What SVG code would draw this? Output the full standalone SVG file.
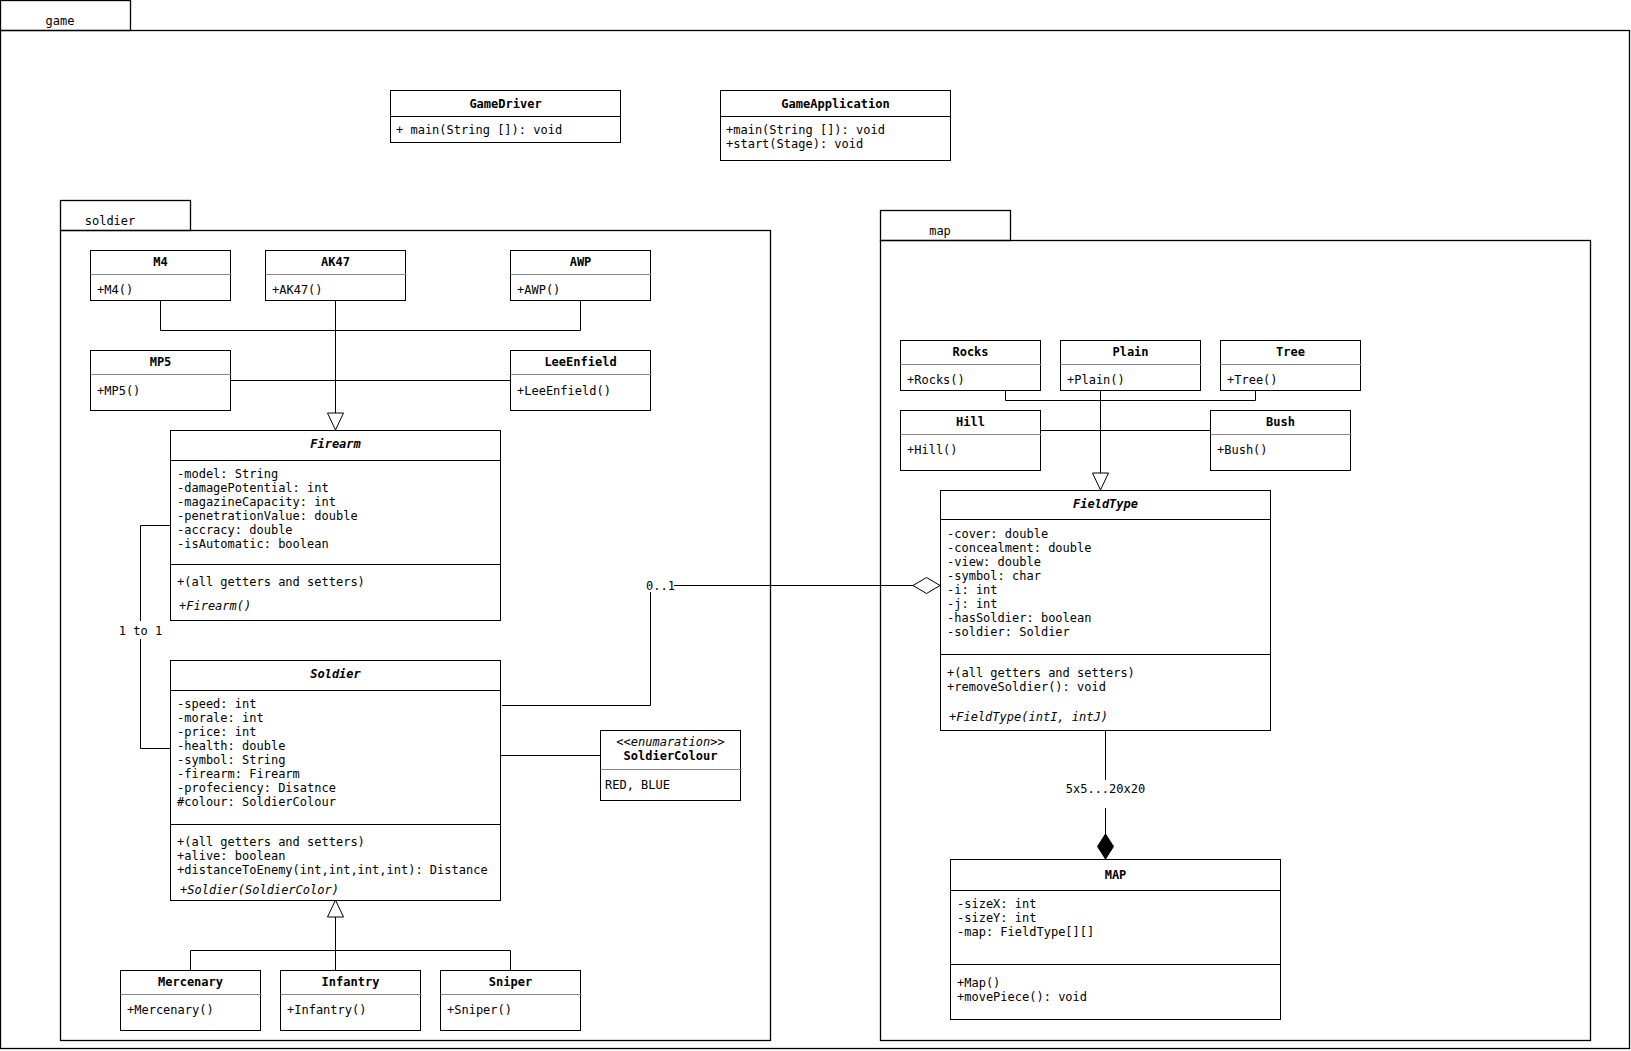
<svg xmlns="http://www.w3.org/2000/svg" width="1631" height="1051" viewBox="0 0 1631 1051">
<style>
.frame{fill:none;stroke:#000;stroke-width:1.3}
.box{fill:#fff;stroke:#000;stroke-width:1}
.dv{stroke:#000;stroke-width:1}
.gdv{stroke:#8a8a8a;stroke-width:1}
text{font-family:"DejaVu Sans Mono","Liberation Mono",monospace;font-size:12px;fill:#000}
.t{font-weight:bold;text-anchor:middle}
.ti{font-weight:bold;font-style:italic;text-anchor:middle}
.i{font-style:italic}
.c{text-anchor:middle}
.edge{fill:none;stroke:#000;stroke-width:1}
</style>
<defs>
<marker id="tri" viewBox="0 0 17 16" refX="17" refY="8" markerWidth="17" markerHeight="16" markerUnits="userSpaceOnUse" orient="auto" overflow="visible"><path d="M0,0 L17,8 L0,16 Z" fill="#fff" stroke="#000" stroke-width="1"/></marker>
<marker id="agg" viewBox="0 0 27 16" refX="27" refY="8" markerWidth="27" markerHeight="16" markerUnits="userSpaceOnUse" orient="auto" overflow="visible"><path d="M0,8 L13.5,0 L27,8 L13.5,16 Z" fill="#fff" stroke="#000" stroke-width="1"/></marker>
<marker id="comp" viewBox="0 0 25 16" refX="25" refY="8" markerWidth="25" markerHeight="16" markerUnits="userSpaceOnUse" orient="auto" overflow="visible"><path d="M0,8 L12.5,0 L25,8 L12.5,16 Z" fill="#000" stroke="#000" stroke-width="1"/></marker>
</defs>
<rect width="1631" height="1051" fill="#fff"/>

<g id="pkg-game">
<rect class="frame" x="0.5" y="0.5" width="130" height="30"/>
<rect class="frame" x="0.5" y="30.5" width="1629" height="1018"/>
<text x="60" y="25" class="c">game</text>
</g>

<g id="pkg-soldier">
<rect class="frame" x="60.5" y="200.5" width="130" height="30"/>
<rect class="frame" x="60.5" y="230.5" width="710" height="810"/>
<text x="110" y="225" class="c">soldier</text>
</g>

<g id="pkg-map">
<rect class="frame" x="880.5" y="210.5" width="130" height="30"/>
<rect class="frame" x="880.5" y="240.5" width="710" height="800"/>
<text x="940" y="235" class="c">map</text>
</g>

<g id="GameDriver">
<rect class="box" x="390.5" y="90.5" width="230" height="52"/>
<line class="dv" x1="390.5" y1="116.5" x2="620.5" y2="116.5"/>
<text x="505.5" y="108" class="t">GameDriver</text>
<text x="396" y="133.5">+ main(String []): void</text>
</g>

<g id="GameApplication">
<rect class="box" x="720.5" y="90.5" width="230" height="70"/>
<line class="dv" x1="720.5" y1="116.5" x2="950.5" y2="116.5"/>
<text x="835.5" y="108" class="t">GameApplication</text>
<text x="726" y="134">+main(String []): void</text>
<text x="726" y="147.5">+start(Stage): void</text>
</g>

<g id="M4">
<rect class="box" x="90.5" y="250.5" width="140" height="50"/>
<line class="gdv" x1="90.5" y1="274.5" x2="231.5" y2="274.5"/>
<text x="160.5" y="266" class="t">M4</text>
<text x="97" y="294">+M4()</text>
</g>
<g id="AK47">
<rect class="box" x="265.5" y="250.5" width="140" height="50"/>
<line class="gdv" x1="265.5" y1="274.5" x2="406.5" y2="274.5"/>
<text x="335.5" y="266" class="t">AK47</text>
<text x="272" y="294">+AK47()</text>
</g>
<g id="AWP">
<rect class="box" x="510.5" y="250.5" width="140" height="50"/>
<line class="gdv" x1="510.5" y1="274.5" x2="651.5" y2="274.5"/>
<text x="580.5" y="266" class="t">AWP</text>
<text x="517" y="294">+AWP()</text>
</g>
<g id="MP5">
<rect class="box" x="90.5" y="350.5" width="140" height="60"/>
<line class="gdv" x1="90.5" y1="374.5" x2="231.5" y2="374.5"/>
<text x="160.5" y="366" class="t">MP5</text>
<text x="97" y="394.5">+MP5()</text>
</g>
<g id="LeeEnfield">
<rect class="box" x="510.5" y="350.5" width="140" height="60"/>
<line class="gdv" x1="510.5" y1="374.5" x2="651.5" y2="374.5"/>
<text x="580.5" y="366" class="t">LeeEnfield</text>
<text x="517" y="394.5">+LeeEnfield()</text>
</g>

<g id="Firearm">
<rect class="box" x="170.5" y="430.5" width="330" height="190"/>
<line class="dv" x1="170.5" y1="460.5" x2="500.5" y2="460.5"/>
<line class="dv" x1="170.5" y1="564.5" x2="500.5" y2="564.5"/>
<text x="335.5" y="448" class="ti">Firearm</text>
<text x="177" y="478">-model: String</text>
<text x="177" y="492">-damagePotential: int</text>
<text x="177" y="506">-magazineCapacity: int</text>
<text x="177" y="520">-penetrationValue: double</text>
<text x="177" y="534">-accracy: double</text>
<text x="177" y="548">-isAutomatic: boolean</text>
<text x="177" y="586">+(all getters and setters)</text>
<text x="179" y="609.5" class="i">+Firearm()</text>
</g>

<g id="Soldier">
<rect class="box" x="170.5" y="660.5" width="330" height="240"/>
<line class="dv" x1="170.5" y1="690.5" x2="500.5" y2="690.5"/>
<line class="dv" x1="170.5" y1="824.5" x2="500.5" y2="824.5"/>
<text x="335.5" y="677.5" class="ti">Soldier</text>
<text x="177" y="707.5">-speed: int</text>
<text x="177" y="721.5">-morale: int</text>
<text x="177" y="735.5">-price: int</text>
<text x="177" y="749.5">-health: double</text>
<text x="177" y="763.5">-symbol: String</text>
<text x="177" y="777.5">-firearm: Firearm</text>
<text x="177" y="791.5">-profeciency: Disatnce</text>
<text x="177" y="805.5">#colour: SoldierColour</text>
<text x="177" y="846">+(all getters and setters)</text>
<text x="177" y="860">+alive: boolean</text>
<text x="177" y="874">+distanceToEnemy(int,int,int,int): Distance</text>
<text x="180" y="894" class="i">+Soldier(SoldierColor)</text>
</g>

<g id="SoldierColour">
<rect class="box" x="600.5" y="730.5" width="140" height="70"/>
<line class="gdv" x1="600.5" y1="769.5" x2="741.5" y2="769.5"/>
<text x="670.5" y="745.5" class="c i">&lt;&lt;enumaration&gt;&gt;</text>
<text x="670.5" y="760" class="t">SoldierColour</text>
<text x="605" y="789">RED, BLUE</text>
</g>

<g id="Mercenary">
<rect class="box" x="120.5" y="970.5" width="140" height="60"/>
<line class="gdv" x1="120.5" y1="994.5" x2="261.5" y2="994.5"/>
<text x="190.5" y="986" class="t">Mercenary</text>
<text x="127" y="1014">+Mercenary()</text>
</g>
<g id="Infantry">
<rect class="box" x="280.5" y="970.5" width="140" height="60"/>
<line class="gdv" x1="280.5" y1="994.5" x2="421.5" y2="994.5"/>
<text x="350.5" y="986" class="t">Infantry</text>
<text x="287" y="1014">+Infantry()</text>
</g>
<g id="Sniper">
<rect class="box" x="440.5" y="970.5" width="140" height="60"/>
<line class="gdv" x1="440.5" y1="994.5" x2="581.5" y2="994.5"/>
<text x="510.5" y="986" class="t">Sniper</text>
<text x="447" y="1014">+Sniper()</text>
</g>

<g id="Rocks">
<rect class="box" x="900.5" y="340.5" width="140" height="50"/>
<line class="gdv" x1="900.5" y1="364.5" x2="1041.5" y2="364.5"/>
<text x="970.5" y="356" class="t">Rocks</text>
<text x="907" y="384">+Rocks()</text>
</g>
<g id="Plain">
<rect class="box" x="1060.5" y="340.5" width="140" height="50"/>
<line class="gdv" x1="1060.5" y1="364.5" x2="1201.5" y2="364.5"/>
<text x="1130.5" y="356" class="t">Plain</text>
<text x="1067" y="384">+Plain()</text>
</g>
<g id="Tree">
<rect class="box" x="1220.5" y="340.5" width="140" height="50"/>
<line class="gdv" x1="1220.5" y1="364.5" x2="1361.5" y2="364.5"/>
<text x="1290.5" y="356" class="t">Tree</text>
<text x="1227" y="384">+Tree()</text>
</g>
<g id="Hill">
<rect class="box" x="900.5" y="410.5" width="140" height="60"/>
<line class="gdv" x1="900.5" y1="434.5" x2="1041.5" y2="434.5"/>
<text x="970.5" y="426" class="t">Hill</text>
<text x="907" y="454">+Hill()</text>
</g>
<g id="Bush">
<rect class="box" x="1210.5" y="410.5" width="140" height="60"/>
<line class="gdv" x1="1210.5" y1="434.5" x2="1351.5" y2="434.5"/>
<text x="1280.5" y="426" class="t">Bush</text>
<text x="1217" y="454">+Bush()</text>
</g>

<g id="FieldType">
<rect class="box" x="940.5" y="490.5" width="330" height="240"/>
<line class="dv" x1="940.5" y1="519.5" x2="1270.5" y2="519.5"/>
<line class="dv" x1="940.5" y1="654.5" x2="1270.5" y2="654.5"/>
<text x="1105.5" y="508" class="ti">FieldType</text>
<text x="947" y="537.5">-cover: double</text>
<text x="947" y="551.5">-concealment: double</text>
<text x="947" y="565.5">-view: double</text>
<text x="947" y="579.5">-symbol: char</text>
<text x="947" y="593.5">-i: int</text>
<text x="947" y="607.5">-j: int</text>
<text x="947" y="621.5">-hasSoldier: boolean</text>
<text x="947" y="635.5">-soldier: Soldier</text>
<text x="947" y="677">+(all getters and setters)</text>
<text x="947" y="690.5">+removeSoldier(): void</text>
<text x="949" y="721" class="i">+FieldType(intI, intJ)</text>
</g>

<g id="MAP">
<rect class="box" x="950.5" y="859.5" width="330" height="160"/>
<line class="dv" x1="950.5" y1="890.5" x2="1280.5" y2="890.5"/>
<line class="dv" x1="950.5" y1="964.5" x2="1280.5" y2="964.5"/>
<text x="1115.5" y="878.5" class="t">MAP</text>
<text x="957" y="907.5">-sizeX: int</text>
<text x="957" y="921.5">-sizeY: int</text>
<text x="957" y="935.5">-map: FieldType[][]</text>
<text x="957" y="987">+Map()</text>
<text x="957" y="1001">+movePiece(): void</text>
</g>

<g id="connectors">
<path class="edge" d="M160.5,300 V330.5 H580.5 V300"/>
<path class="edge" d="M335.5,300 V430" marker-end="url(#tri)"/>
<path class="edge" d="M230,380.5 H510"/>
<path class="edge" d="M190.5,970 V950.5 H510.5 V970"/>
<path class="edge" d="M335.5,970 V900" marker-end="url(#tri)"/>
<path class="edge" d="M170,525.5 H140.5 V621"/>
<path class="edge" d="M140.5,639 V748.5 H170"/>
<text x="140.5" y="635" class="c">1 to 1</text>
<path class="edge" d="M502,705.5 H650.5 V592"/>
<text x="660.5" y="589.5" class="c">0..1</text>
<path class="edge" d="M674,585.5 H940" marker-end="url(#agg)"/>
<path class="edge" d="M500,755.5 H600"/>
<path class="edge" d="M1005.5,390 V400.5 H1255.5 V390"/>
<path class="edge" d="M1100.5,390 V490" marker-end="url(#tri)"/>
<path class="edge" d="M1040,430.5 H1210"/>
<path class="edge" d="M1105.5,730 V780"/>
<text x="1105.5" y="793" class="c">5x5...20x20</text>
<path class="edge" d="M1105.5,808 V859" marker-end="url(#comp)"/>
</g>
</svg>
